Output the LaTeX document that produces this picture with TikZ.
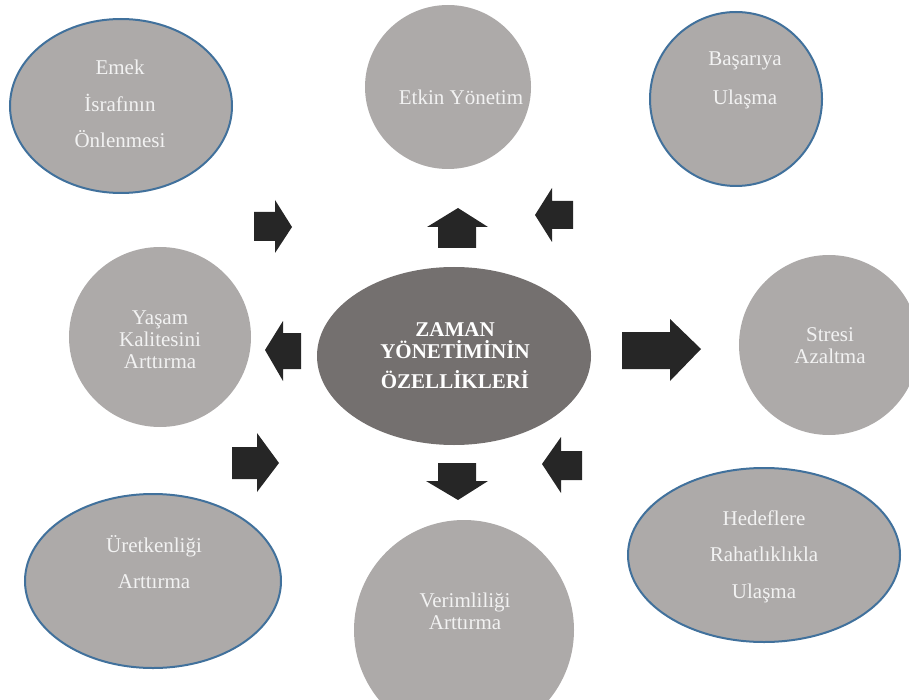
\documentclass[tikz,border=0pt]{standalone}
\usepackage{fontspec}
\setmainfont{Liberation Serif}
\usetikzlibrary{shapes.geometric}
\definecolor{lightfill}{RGB}{173,170,169}
\definecolor{darkfill}{RGB}{116,112,111}
\definecolor{arrowcol}{RGB}{38,38,38}
\definecolor{bordercol}{RGB}{65,113,156}
\definecolor{txtcol}{RGB}{242,242,242}
\tikzset{
  bubble/.style={ellipse, fill=lightfill, draw=none, inner sep=0pt},
  bluebubble/.style={bubble, draw=bordercol, line width=2pt},
  centrebubble/.style={ellipse, fill=darkfill, draw=none, inner sep=0pt},
  lbl/.style={anchor=base, text=txtcol, inner sep=0pt, font=\fontsize{21}{25}\selectfont},
  clbl/.style={anchor=base, text=white, inner sep=0pt, font=\fontsize{21}{25}\selectfont\bfseries},
  blockarrow/.style={fill=arrowcol, draw=none}
}
\begin{document}
\begin{tikzpicture}[x=1pt,y=-1pt]
\useasboundingbox (0,0) rectangle (909,700);
% bubbles
\node[bluebubble, minimum width=222pt, minimum height=174pt] (emek) at (121,106) {};
\node[bubble, minimum width=166pt, minimum height=164pt] (etkin) at (448,87) {};
\node[bluebubble, minimum width=172pt, minimum height=174pt] (basari) at (736,99) {};
\node[bubble, minimum width=182pt, minimum height=180pt] (yasam) at (160,337) {};
\node[centrebubble, minimum width=274pt, minimum height=178pt] (merkez) at (454,356) {};
\node[bubble, minimum width=180pt, minimum height=180pt] (stres) at (829,345) {};
\node[bluebubble, minimum width=256pt, minimum height=174pt] (uret) at (153,581) {};
\node[bubble, minimum width=220pt, minimum height=220pt] (verim) at (464,630) {};
\node[bluebubble, minimum width=272pt, minimum height=174pt] (hedef) at (764,555) {};
% texts
\node[lbl] (emekA) at (120,75) {Emek};
\node[lbl] (emekB) at (120,112) {İsrafının};
\node[lbl] (emekC) at (120,148) {Önlenmesi};
\node[lbl] (etkinA) at (461,105) {Etkin Yönetim};
\node[lbl] (basariA) at (745,66) {Başarıya};
\node[lbl] (basariB) at (745,105) {Ulaşma};
\node[lbl] (yasamA) at (160,324) {Yaşam};
\node[lbl] (yasamB) at (160,346) {Kalitesini};
\node[lbl] (yasamC) at (160,368) {Arttırma};
\node[clbl] (merkezA) at (455,336) {ZAMAN};
\node[clbl] (merkezB) at (455,358) {YÖNETİMİNİN};
\node[clbl] (merkezC) at (455,388) {ÖZELLİKLERİ};
\node[lbl] (stresA) at (830,341) {Stresi};
\node[lbl] (stresB) at (830,363) {Azaltma};
\node[lbl] (uretA) at (154,552) {Üretkenliği};
\node[lbl] (uretB) at (154,588) {Arttırma};
\node[lbl] (verimA) at (465,607) {Verimliliği};
\node[lbl] (verimB) at (465,629) {Arttırma};
\node[lbl] (hedefA) at (764,525) {Hedeflere};
\node[lbl] (hedefB) at (764,561) {Rahatlıklıkla};
\node[lbl] (hedefC) at (764,598) {Ulaşma};
% block arrows
\fill[blockarrow] (254,212) -- (275,212) -- (275,200) -- (292,227) -- (275,253) -- (275,241) -- (254,241) -- cycle;
\fill[blockarrow] (438,248) -- (438,227) -- (427,227) -- (458,208) -- (488,227) -- (476,227) -- (476,248) -- cycle;
\fill[blockarrow] (573,201) -- (552,201) -- (552,188) -- (535,215) -- (552,242) -- (552,229) -- (573,229) -- cycle;
\fill[blockarrow] (301,333) -- (283,333) -- (283,321) -- (265,350) -- (283,381) -- (283,369) -- (301,369) -- cycle;
\fill[blockarrow] (622,332) -- (670,332) -- (670,319) -- (701,349) -- (670,381) -- (670,369) -- (622,369) -- cycle;
\fill[blockarrow] (232,447) -- (257,447) -- (257,433) -- (279,463) -- (257,492) -- (257,479) -- (232,479) -- cycle;
\fill[blockarrow] (438,463) -- (476,463) -- (476,481) -- (488,481) -- (458,500) -- (426,481) -- (438,481) -- cycle;
\fill[blockarrow] (582,451) -- (561,451) -- (561,437) -- (542,464) -- (561,493) -- (561,480) -- (582,480) -- cycle;
\end{tikzpicture}
\end{document}
